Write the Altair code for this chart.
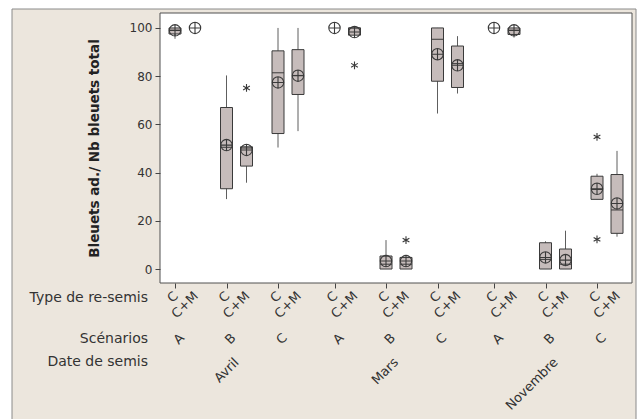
import altair as alt
import pandas as pd

# Factors (outer to inner): sowing date > scenario > re-sowing type
dates = ["Avril", "Mars", "Novembre"]
scenarios = ["A", "B", "C"]
types = ["C", "C+M"]

# Box statistics per group, in date > scenario > type order
whisker_low = [95.5, 100, 29.0, 35.8, 50.4, 57.2, 100, 97.0, 0, 0, 64.5, 72.8, 100, 96.0, 0, 0, 28.9, 13.4]
q1 = [97.5, 100, 33.3, 42.7, 56.2, 72.4, 100, 97.0, 0, 0, 77.9, 75.3, 100, 97.3, 0, 0, 28.9, 14.8]
median = [99.0, 100, 50.5, 50.2, 81.4, 80.3, 100, 100, 2.0, 2.0, 95.3, 85.2, 100, 99.0, 4.0, 2.0, 33.0, 24.5]
q3 = [100, 100, 67.0, 50.7, 90.5, 91.0, 100, 100, 5.4, 4.8, 100, 92.5, 100, 100, 10.9, 8.3, 38.5, 39.2]
whisker_high = [100, 100, 80.3, 50.7, 100, 100, 100, 100, 12.0, 4.8, 100, 96.6, 100, 100, 11.5, 15.9, 39.5, 49.0]
mean = [99.0, 100, 51.4, 49.4, 77.4, 80.2, 100, 98.3, 3.3, 3.3, 89.1, 84.5, 100, 99.0, 4.8, 3.7, 33.3, 27.2]

# Outliers
outlier_date = ["Avril", "Mars", "Mars", "Novembre", "Novembre"]
outlier_scen = ["B", "A", "B", "C", "C"]
outlier_type = ["C+M", "C+M", "C+M", "C", "C"]
outlier_value = [75.1, 84.5, 12.0, 54.8, 12.3]

ROW_LABELS = ["Type de re-semis", "Scénarios", "Date de semis"]
Y_TITLE = "Bleuets ad./ Nb bleuets total"

# Layout of the nested categorical axis (in pixels along x)
DATE_STEP, SCEN_STEP, TYPE_STEP, START = 159.5, 51.5, 20.0, 15.0
W, H = 472, 270
HALF_BOX = 6

FONT = "DejaVu Sans"
TEXT_COLOR = "#333333"
BOX_FILL = "#c6bcbb"
DARK = "#3a3a3a"

def js_list(items):
    return "[" + ",".join("'" + s + "'" for s in items) + "]"

POS_EXPR = (
    f"indexof({js_list(dates)}, datum.date)*{DATE_STEP}"
    f" + indexof({js_list(scenarios)}, datum.scen)*{SCEN_STEP}"
    f" + indexof({js_list(types)}, datum.type)*{TYPE_STEP} + {START}"
)

date_col = [d for d in dates for _ in scenarios for _ in types]
scen_col = [s for _ in dates for s in scenarios for _ in types]
type_col = [t for _ in dates for _ in scenarios for t in types]

stats = pd.DataFrame({
    "date": date_col, "scen": scen_col, "type": type_col,
    "lo": whisker_low, "q1": q1, "med": median, "q3": q3,
    "hi": whisker_high, "mean": mean,
})
outliers = pd.DataFrame({
    "date": outlier_date, "scen": outlier_scen, "type": outlier_type,
    "value": outlier_value,
})
pairs = pd.DataFrame({
    "date": [d for d in dates for _ in scenarios],
    "scen": [s for _ in dates for s in scenarios],
})
date_df = pd.DataFrame({"date": dates})
row_df = pd.DataFrame({"label": ROW_LABELS, "row": [0, 1, 2]})

tick_values = [
    di * DATE_STEP + si * SCEN_STEP + ti * TYPE_STEP + START
    for di in range(len(dates)) for si in range(len(scenarios)) for ti in range(len(types))
]

x_scale = alt.Scale(domain=[0, W], nice=False, zero=False)
y_scale = alt.Scale(domain=[-5.8, 106.2], nice=False, zero=False)

x_axis = alt.Axis(values=tick_values, labels=False, ticks=True, tickSize=5,
                  tickColor="#444444", domain=False, grid=False, title=None, zindex=1)
y_axis = alt.Axis(values=[0, 20, 40, 60, 80, 100], tickSize=5, tickColor="#444444",
                  labelFont=FONT, labelFontSize=12, labelColor=TEXT_COLOR, labelPadding=3,
                  domain=False, grid=False, title=Y_TITLE, titleFont=FONT,
                  titleFontSize=13.5, titleFontWeight="bold", titleColor="#222222",
                  titlePadding=28, zindex=1)

one = pd.DataFrame({"n": [0]})

# Beige outer panel and white plotting frame
panel = alt.Chart(one).mark_rect(fill="#ece6dd", stroke="#8a8a8a", strokeWidth=1).encode(
    x=alt.value(-148), x2=alt.value(476), y=alt.value(-4), y2=alt.value(H + 145)
)
frame = alt.Chart(one).mark_rect(fill="white", stroke="#505050", strokeWidth=1).encode(
    x=alt.value(0), x2=alt.value(W), y=alt.value(0), y2=alt.value(H)
)

base = alt.Chart(stats).transform_calculate(pos=POS_EXPR).transform_calculate(
    xl=f"datum.pos - {HALF_BOX}", xr=f"datum.pos + {HALF_BOX}", lx="datum.pos + 1"
)

whiskers = base.mark_rule(color="#5e5e5e", strokeWidth=1).encode(
    x=alt.X("pos:Q", scale=x_scale, axis=x_axis),
    y=alt.Y("lo:Q", scale=y_scale, axis=y_axis),
    y2="hi:Q",
)
boxes = base.transform_filter("datum.q3 > datum.q1").mark_rect(
    fill=BOX_FILL, stroke=DARK, strokeWidth=1
).encode(
    x=alt.X("xl:Q", scale=x_scale), x2="xr:Q",
    y=alt.Y("q1:Q", scale=y_scale), y2="q3:Q",
)
medians = base.transform_filter("datum.q3 > datum.q1").mark_rule(
    color=DARK, strokeWidth=1
).encode(
    x=alt.X("xl:Q", scale=x_scale), x2="xr:Q",
    y=alt.Y("med:Q", scale=y_scale),
)
MEAN_SHAPE = "M-1,0A1,1,0,1,1,1,0A1,1,0,1,1,-1,0ZM-1,0L1,0M0,-1L0,1"
means = base.mark_point(shape=MEAN_SHAPE, filled=False, stroke=DARK, strokeWidth=1.1,
                        size=130, opacity=1).encode(
    x=alt.X("pos:Q", scale=x_scale),
    y=alt.Y("mean:Q", scale=y_scale),
)
STAR_SHAPE = "M0,-1L0,1M-0.87,-0.5L0.87,0.5M-0.87,0.5L0.87,-0.5"
stars = alt.Chart(outliers).transform_calculate(pos=POS_EXPR).mark_point(
    shape=STAR_SHAPE, filled=False, stroke=DARK, strokeWidth=1.1, size=60, opacity=1
).encode(
    x=alt.X("pos:Q", scale=x_scale),
    y=alt.Y("value:Q", scale=y_scale),
)

# Category labels under the plot
type_labels = base.mark_text(angle=315, align="right", baseline="middle", font=FONT,
                             fontSize=13, color=TEXT_COLOR).encode(
    x=alt.X("lx:Q", scale=x_scale), y=alt.value(H + 11), text="type:N"
)
scen_labels = alt.Chart(pairs).transform_calculate(
    cx=f"indexof({js_list(dates)}, datum.date)*{DATE_STEP}"
       f" + indexof({js_list(scenarios)}, datum.scen)*{SCEN_STEP} + {START} + {TYPE_STEP / 2} - 6"
).mark_text(angle=315, align="center", baseline="middle", font=FONT, fontSize=13,
            color=TEXT_COLOR).encode(
    x=alt.X("cx:Q", scale=x_scale), y=alt.value(H + 56), text="scen:N"
)
date_labels = alt.Chart(date_df).transform_calculate(
    cx=f"indexof({js_list(dates)}, datum.date)*{DATE_STEP}"
       f" + {SCEN_STEP} + {START} + {TYPE_STEP / 2} - 4"
).mark_text(angle=315, align="right", baseline="top", font=FONT, fontSize=13,
            color=TEXT_COLOR).encode(
    x=alt.X("cx:Q", scale=x_scale), y=alt.value(H + 73), text="date:N"
)
row_labels = alt.Chart(row_df).transform_calculate(
    ry=f"datum.row == 0 ? {H + 15} : (datum.row == 1 ? {H + 56} : {H + 79})"
).mark_text(align="right", baseline="middle", font=FONT, fontSize=14,
            color=TEXT_COLOR).encode(
    x=alt.value(-12), y=alt.Y("ry:Q", scale=None), text="label:N"
)

chart = alt.layer(
    panel, frame, whiskers, boxes, medians, means, stars,
    type_labels, scen_labels, date_labels, row_labels,
).properties(
    width=W, height=H,
    autosize=alt.AutoSizeParams(type="none"),
    padding={"left": 160, "top": 13, "right": 9, "bottom": 136},
    background="white",
).configure_view(stroke=None)

chart.save("out.html", embed_options={"renderer": "svg", "actions": False})
